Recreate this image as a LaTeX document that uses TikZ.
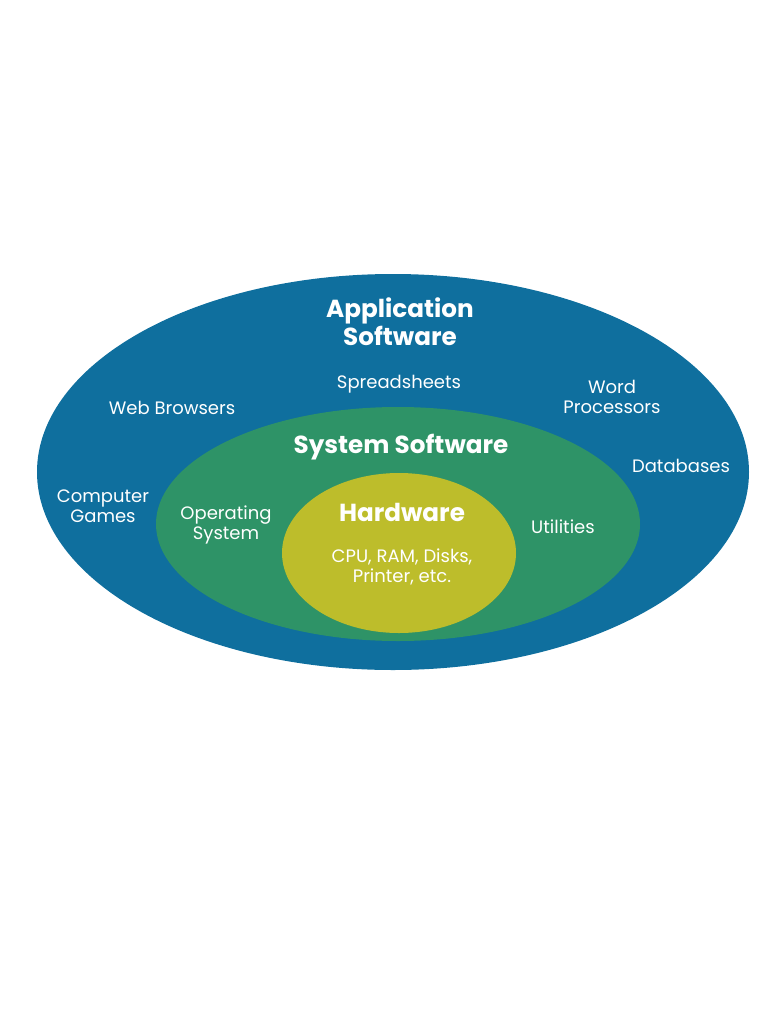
\documentclass[tikz,border=0pt]{standalone}
\usepackage{fontspec}
\setmainfont{Poppins}
\definecolor{appblue}{HTML}{0F6F9E}
\definecolor{sysgreen}{HTML}{2E9367}
\definecolor{hwyellow}{HTML}{BDBD2B}
\begin{document}
\begin{tikzpicture}[x=0.75pt,y=-0.75pt,
  lab/.style={text=white,font=\fontsize{13.5}{15}\selectfont,align=center,inner sep=0pt},
  title/.style={text=white,font=\fontsize{18.5}{21}\selectfont\bfseries,align=center,inner sep=0pt}]
\useasboundingbox (0,0) rectangle (768,1024);
\fill[appblue] (393,472) ellipse [x radius=356, y radius=198];
\fill[sysgreen] (398,524) ellipse [x radius=242, y radius=117];
\fill[hwyellow] (399,553) ellipse [x radius=117, y radius=80];
\node[title] (app) at (400,322) {Application\\Software};
\node[lab] (ss) at (399,384) {Spreadsheets};
\node[lab] (wp) at (612,397) {Word\\Processors};
\node[lab] (wb) at (172,408) {Web Browsers};
\node[title] (sys) at (401,447) {System Software};
\node[lab] (db) at (681,466) {Databases};
\node[lab] (cg) at (103,506) {Computer\\Games};
\node[lab] (os) at (226,525) {Operating\\System};
\node[title] (hw) at (402,512) {Hardware};
\node[lab] (ut) at (563,527) {Utilities};
\node[lab] (cpu) at (402,567) {CPU, RAM, Disks,\\Printer, etc.};
\end{tikzpicture}
\end{document}
